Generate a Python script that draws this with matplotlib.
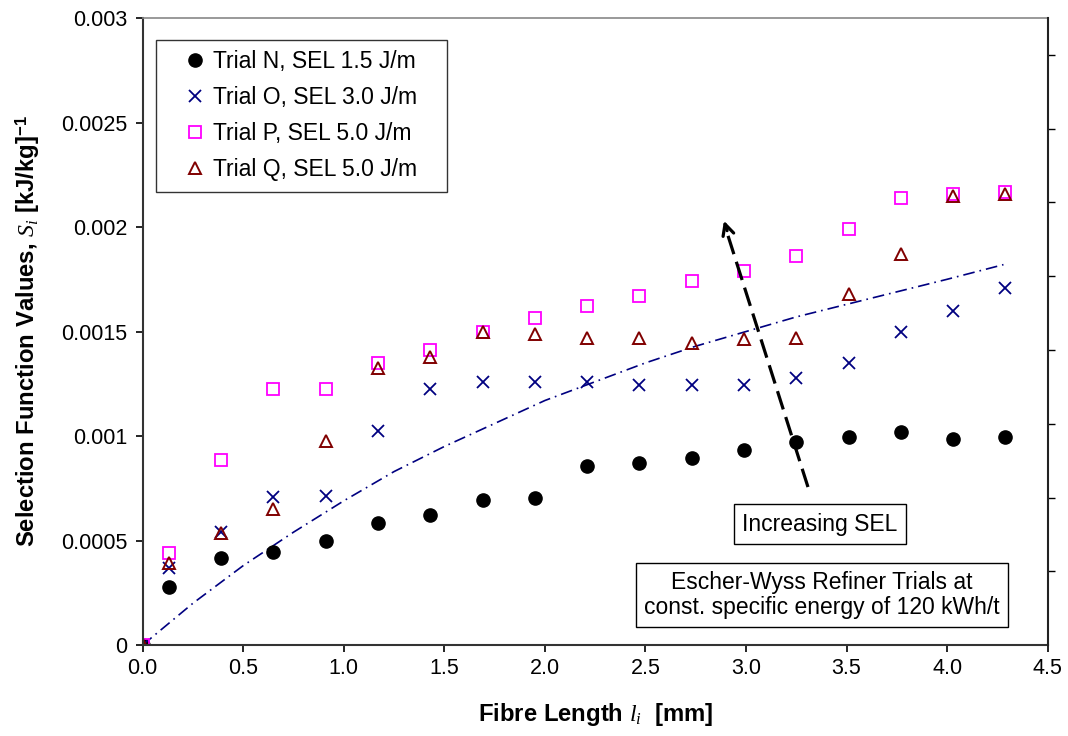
import matplotlib
matplotlib.use("Agg")
import matplotlib.pyplot as plt

plt.rcParams['font.family'] = ['Liberation Sans', 'DejaVu Sans']
plt.rcParams['mathtext.fontset'] = 'custom'
plt.rcParams['mathtext.rm'] = 'Liberation Sans:bold'
plt.rcParams['mathtext.bf'] = 'Liberation Sans:bold'
plt.rcParams['mathtext.it'] = 'Liberation Serif:italic'

# fibre length classes [mm]
lengths = [0.0, 0.13, 0.39, 0.65, 0.91, 1.17, 1.43, 1.69, 1.95, 2.21,
           2.47, 2.73, 2.99, 3.25, 3.51, 3.77, 4.03, 4.29]

# selection function values per trial
trial_n = [0.0, 0.000278, 0.000416, 0.000445, 0.000498, 0.000584, 0.000622,
           0.000694, 0.000703, 0.000857, 0.00087, 0.000895, 0.000933,
           0.00097, 0.000995, 0.00102, 0.000986, 0.000995]
trial_o = [0.0, 0.000368, 0.00054, 0.000708, 0.000713, 0.001024, 0.001225,
           0.00126, 0.00126, 0.00126, 0.001244, 0.001244, 0.001244,
           0.00128, 0.00135, 0.0015, 0.0016, 0.00171]
trial_p = [0.0, 0.00044, 0.000885, 0.001225, 0.001225, 0.00135, 0.00141,
           0.0015, 0.001565, 0.00162, 0.00167, 0.00174, 0.00179,
           0.00186, 0.00199, 0.00214, 0.00216, 0.00217]
trial_q = [0.0, 0.000392, 0.000536, 0.00065, 0.000976, 0.001325, 0.00138,
           0.0015, 0.00149, 0.00147, 0.00147, 0.001445, 0.001464,
           0.00147, 0.00168, 0.00187, 0.00215, 0.00216]

# fitted trend line
fit_x = [0.0, 0.25, 0.5, 0.75, 1.0, 1.25, 1.5, 1.75, 2.0, 2.25, 2.5,
         2.75, 3.0, 3.25, 3.5, 3.75, 4.0, 4.28]
fit_y = [0.0, 0.0002, 0.00038, 0.00054, 0.00069, 0.00083, 0.00095,
         0.00106, 0.00117, 0.00126, 0.00135, 0.00143, 0.0015, 0.00157,
         0.00163, 0.00169, 0.00175, 0.00182]

x_ticks = [0.0, 0.5, 1.0, 1.5, 2.0, 2.5, 3.0, 3.5, 4.0, 4.5]
y_ticks = [0, 0.0005, 0.001, 0.0015, 0.002, 0.0025, 0.003]
y_labels = ['0', '0.0005', '0.001', '0.0015', '0.002', '0.0025', '0.003']

fig = plt.figure(figsize=(10.68, 7.36), dpi=100)
ax = fig.add_axes([0.1336, 0.1236, 0.8474, 0.8519])

ax.plot(fit_x, fit_y, color='#000080', lw=1.2, linestyle=(0, (7, 3, 1, 3)))

# trailing spaces widen the legend box like in the original
ax.plot(lengths, trial_n, 'o', color='black', ms=9.5, label='Trial N, SEL 1.5 J/m   ')
ax.plot(lengths, trial_o, 'x', color='#000080', ms=9, mew=1.3, label='Trial O, SEL 3.0 J/m   ')
ax.plot(lengths, trial_p, 's', mfc='none', mec='#FF00FF', ms=9, mew=1.3, label='Trial P, SEL 5.0 J/m   ')
ax.plot(lengths, trial_q, '^', mfc='none', mec='#800000', ms=8.5, mew=1.4, label='Trial Q, SEL 5.0 J/m   ')

ax.set_xlim(0, 4.5)
ax.set_ylim(0, 0.003)
ax.set_xticks(x_ticks)
ax.set_xticklabels(['%.1f' % v for v in x_ticks])
ax.set_yticks(y_ticks)
ax.set_yticklabels(y_labels)
ax.tick_params(direction='out', length=5, width=1.2, labelsize=15.5)
ax.tick_params(axis='y', right=False, pad=6)
ax.tick_params(axis='x', pad=4)

for s in ['left', 'bottom']:
    ax.spines[s].set_linewidth(1.5)
    ax.spines[s].set_color('#333333')
ax.spines['top'].set_color('#888888')
ax.spines['top'].set_linewidth(1.2)
ax.spines['right'].set_visible(False)

# secondary right axis with unlabeled ticks
ax2 = ax.twinx()
ax2.set_ylim(0, 8.5)
ax2.set_yticks(range(1, 9))
ax2.set_yticklabels([])
ax2.tick_params(direction='out', length=5, width=1.0)
ax2.spines['right'].set_linewidth(1.5)
ax2.spines['right'].set_color('#222222')
for s in ['left', 'bottom', 'top']:
    ax2.spines[s].set_visible(False)

ax.set_xlabel(r'Fibre Length $l_i$  [mm]', fontsize=17.2, fontweight='bold', labelpad=16)
ax.set_ylabel(r'Selection Function Values, $S_i$ [kJ/kg]$^{\mathrm{-1}}$',
              fontsize=17.2, fontweight='bold', labelpad=14)

leg = ax.legend(loc='upper left', bbox_to_anchor=(0.0143, 0.965), borderaxespad=0,
                fontsize=16.5, frameon=True, fancybox=False, handlelength=2.57,
                handletextpad=-0.5, borderpad=0.45, labelspacing=0.57)
leg.get_frame().set_edgecolor('black')
leg.get_frame().set_linewidth(1.0)

# dashed arrow "Increasing SEL"
ax.plot([3.308, 2.90], [0.000756, 0.00199], color='black', lw=2.3, dashes=(6, 2.5))
ax.annotate('', xy=(2.886, 0.002043), xytext=(2.91, 0.00197),
            arrowprops=dict(arrowstyle='->', lw=2.3, color='black', mutation_scale=20))

box = dict(boxstyle='square,pad=0.35', fc='white', ec='black', lw=1.0)
ax.text(3.368, 0.000579, 'Increasing SEL', fontsize=16.5, ha='center', va='center', bbox=box)
ax.text(3.378, 0.000239, 'Escher-Wyss Refiner Trials at\nconst. specific energy of 120 kWh/t',
        fontsize=16.5, ha='center', va='center', linespacing=1.15, bbox=box)

fig.savefig('out.png', dpi=100)
